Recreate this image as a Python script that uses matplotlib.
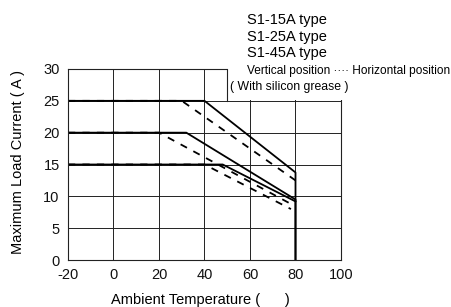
import matplotlib.pyplot as plt
from matplotlib.patches import Rectangle
import matplotlib as mpl

mpl.rcParams["font.family"] = ["Liberation Sans", "DejaVu Sans"]
mpl.rcParams["axes.unicode_minus"] = False

# derating curves: (temperature, current)
temp_25_solid = [-20, 40, 80, 80]
amps_25_solid = [25, 25, 13.75, 0]
temp_25_dash = [-20, 30, 80]
amps_25_dash = [25, 25, 12.5]

temp_20_solid = [-20, 32, 80, 80]
amps_20_solid = [20, 20, 9.5, 0]
temp_20_dash = [-20, 20, 78]
amps_20_dash = [20, 20, 8.8]

temp_15_solid = [-20, 48, 80]
amps_15_solid = [15, 15, 9.2]
temp_15_dash = [-20, 40, 78]
amps_15_dash = [15, 15, 8.0]

x_ticks = [-20, 0, 20, 40, 60, 80, 100]
y_ticks = [0, 5, 10, 15, 20, 25, 30]

legend_lines = ["S1-15A type", "S1-25A type", "S1-45A type"]

fig = plt.figure(figsize=(4.52, 3.07), dpi=100)
ax = fig.add_axes([68 / 452, 1 - 260 / 307, 273 / 452, 191 / 307])

ax.set_xlim(-20, 100)
ax.set_ylim(0, 30)
ax.set_xticks(x_ticks)
ax.set_yticks(y_ticks)
ax.tick_params(length=0, labelsize=10.5, colors="#111")
ax.tick_params(axis="x", pad=6)
ax.tick_params(axis="y", pad=6)
ax.grid(True, color="#222", lw=0.7)
for s in ax.spines.values():
    s.set_color("#222")
    s.set_linewidth(0.8)

dash = (0, (4, 4))
ax.plot(temp_25_solid, amps_25_solid, color="black", lw=1.3)
ax.plot(temp_20_solid, amps_20_solid, color="black", lw=1.3)
ax.plot(temp_15_solid, amps_15_solid, color="black", lw=1.3)
ax.plot(temp_25_dash, amps_25_dash, color="black", lw=1.3, ls=dash)
ax.plot(temp_20_dash, amps_20_dash, color="black", lw=1.3, ls=dash)
ax.plot(temp_15_dash, amps_15_dash, color="black", lw=1.3, ls=dash)

# white legend area cutting the top-right corner of the grid
ax.add_patch(Rectangle((50, 25.15), 60, 8, fc="white", ec="none",
                       zorder=3, clip_on=False))
ax.plot([50, 50], [25, 30], color="#222", lw=0.8, zorder=4, clip_on=False)

fig.text(200 / 452, 1 - 300 / 307, "Ambient Temperature (      )",
         fontsize=10.5, ha="center", va="center")
fig.text(18 / 452, 1 - 162 / 307, "Maximum Load Current ( A )",
         fontsize=10.5, ha="center", va="center", rotation=90)

for i, t in enumerate(legend_lines):
    fig.text(247 / 452, 1 - (20 + 16.7 * i) / 307, t, fontsize=10.5,
             va="center", ha="left")
fig.text(247 / 452, 1 - 71 / 307, "Vertical position \u00b7\u00b7\u00b7\u00b7 Horizontal position",
         fontsize=8.6, va="center", ha="left")
fig.text(230 / 452, 1 - 87 / 307, "( With silicon grease )",
         fontsize=8.8, va="center", ha="left")

fig.savefig("out.png", dpi=100, facecolor="white")
